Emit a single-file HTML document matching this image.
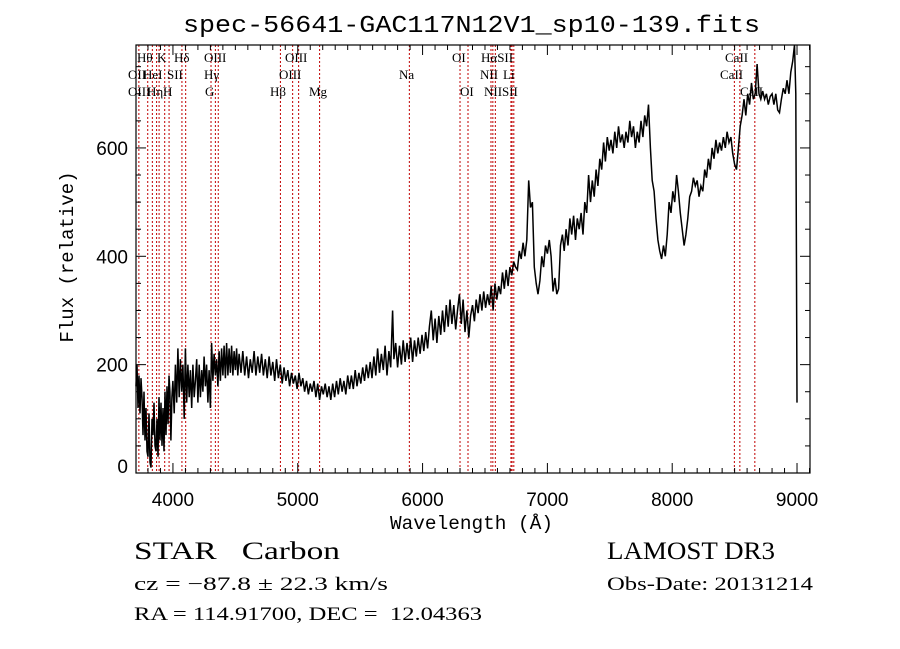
<!DOCTYPE html>
<html><head><meta charset="utf-8"><style>
html,body{margin:0;padding:0;background:#fff;}
svg{display:block;}
</style></head><body>
<svg id="chart" width="900" height="649" viewBox="0 0 900 649" xmlns="http://www.w3.org/2000/svg">
<rect x="0" y="0" width="900" height="649" fill="#fff"/>
<text x="183" y="32" textLength="577" lengthAdjust="spacingAndGlyphs" font-family="Liberation Mono, monospace" font-size="24">spec-56641-GAC117N12V1_sp10-139.fits</text>
<g id="lines"></g>
<g id="labels" font-family="Liberation Serif, serif" font-size="13">
<text x="137" y="62">Hθ</text><text x="157" y="62">K</text><text x="174" y="62">Hδ</text><text x="204" y="62">OIII</text><text x="285" y="62">OIII</text><text x="452" y="62">OI</text><text x="481" y="62">HαSII</text>
<text x="128" y="79">OII</text><text x="143" y="79">HeI</text><text x="167" y="79">SII</text><text x="204" y="79">Hγ</text><text x="279" y="79">OIII</text><text x="399" y="79">Na</text><text x="480" y="79">NII</text><text x="503" y="79">Li</text>
<text x="128" y="96">OIII</text><text x="147" y="96">Hη</text><text x="163" y="96">H</text><text x="205" y="96">G</text><text x="270" y="96">Hβ</text><text x="309" y="96">Mg</text><text x="460" y="96">OI</text><text x="484" y="96">NII</text><text x="502" y="96">SII</text>
<text x="725" y="62">CaII</text><text x="720" y="79">CaII</text><text x="740" y="96">CaII</text>
</g>
<g id="ticks" stroke="#000" stroke-width="1"></g>
<g id="ticklabels" font-family="Liberation Sans, sans-serif" font-size="19"></g>
<path id="spec" fill="none" stroke="#000" stroke-width="1.5"/>
<rect x="136" y="45" width="674" height="428" fill="none" stroke="#000" stroke-width="1.2"/>
<text x="390" y="529" textLength="163" lengthAdjust="spacingAndGlyphs" font-family="Liberation Mono, monospace" font-size="19">Wavelength (Å)</text>
<text transform="translate(73,257) rotate(-90)" text-anchor="middle" font-family="Liberation Mono, monospace" font-size="19">Flux (relative)</text>
<text x="134" y="559" textLength="206" lengthAdjust="spacingAndGlyphs" font-family="Liberation Serif, serif" font-size="25" xml:space="preserve">STAR   Carbon</text>
<text x="134" y="590" textLength="254" lengthAdjust="spacingAndGlyphs" font-family="Liberation Serif, serif" font-size="19">cz = −87.8 ± 22.3 km/s</text>
<text x="134" y="620" textLength="348" lengthAdjust="spacingAndGlyphs" font-family="Liberation Serif, serif" font-size="19" xml:space="preserve">RA = 114.91700, DEC =  12.04363</text>
<text x="607" y="559" textLength="168" lengthAdjust="spacingAndGlyphs" font-family="Liberation Serif, serif" font-size="25">LAMOST DR3</text>
<text x="607" y="590" textLength="206" lengthAdjust="spacingAndGlyphs" font-family="Liberation Serif, serif" font-size="19">Obs-Date: 20131214</text>
</svg>
<script>
const wave = [
3704,3712,3720,3728,3736,3744,3752,3760,3768,3776,
3784,3792,3800,3808,3816,3824,3832,3840,3848,3856,
3864,3872,3880,3888,3896,3904,3912,3920,3928,3936,
3944,3952,3960,3968,3976,3984,3992,4000,4010,4020,
4030,4040,4050,4060,4070,4080,4090,4100,4110,4120,
4130,4140,4150,4160,4170,4180,4190,4200,4210,4220,
4230,4240,4250,4260,4270,4280,4290,4300,4310,4320,
4330,4340,4350,4360,4370,4380,4390,4400,4410,4420,
4430,4440,4450,4460,4470,4480,4490,4500,4510,4520,
4530,4545,4560,4575,4590,4605,4620,4635,4650,4665,
4680,4695,4710,4725,4740,4755,4770,4785,4800,4815,
4830,4845,4860,4875,4890,4905,4920,4935,4950,4965,
4980,4995,5010,5025,5040,5055,5070,5085,5100,5115,
5130,5145,5160,5175,5190,5205,5220,5235,5250,5265,
5280,5295,5310,5325,5340,5355,5370,5385,5400,5415,
5430,5445,5460,5475,5490,5505,5520,5535,5550,5565,
5580,5595,5610,5625,5640,5655,5670,5685,5700,5715,
5730,5745,5760,5770,5785,5800,5815,5830,5845,5860,
5875,5890,5905,5920,5935,5950,5965,5980,5995,6010,
6025,6040,6055,6070,6085,6100,6115,6130,6145,6160,
6175,6190,6205,6220,6235,6250,6265,6280,6295,6310,
6325,6340,6355,6370,6385,6400,6415,6430,6445,6460,
6475,6490,6505,6520,6535,6550,6565,6580,6595,6610,
6625,6640,6655,6670,6685,6700,6715,6730,6745,6760,
6775,6790,6805,6820,6835,6850,6865,6880,6895,6910,
6925,6940,6955,6970,6985,7000,7015,7030,7045,7060,
7075,7090,7105,7120,7135,7150,7165,7180,7195,7210,
7225,7240,7255,7270,7285,7300,7315,7330,7345,7360,
7375,7390,7405,7420,7435,7450,7465,7480,7495,7510,
7525,7540,7555,7570,7585,7600,7615,7630,7645,7660,
7675,7690,7705,7720,7735,7750,7765,7780,7795,7810,
7825,7840,7855,7870,7885,7900,7915,7930,7945,7960,
7975,7990,8005,8020,8035,8050,8065,8080,8095,8110,
8125,8140,8155,8170,8185,8200,8215,8230,8245,8260,
8275,8290,8305,8320,8335,8350,8365,8380,8395,8410,
8425,8440,8455,8470,8485,8500,8515,8530,8545,8560,
8575,8590,8605,8620,8635,8650,8665,8680,8695,8710,
8725,8740,8755,8770,8785,8800,8815,8830,8845,8860,
8875,8890,8905,8920,8935,8950,8965,8980,8990,9000];
const flux = [
160,200,120,180,110,175,140,70,150,60,
120,40,30,110,20,10,100,70,130,50,
40,100,30,140,60,130,50,120,40,150,
70,160,90,180,150,60,140,170,110,200,
130,230,140,210,150,200,100,230,130,200,
140,190,120,200,140,170,210,130,200,140,
190,150,215,160,200,130,190,120,240,170,
220,180,210,160,225,170,230,180,235,175,
240,180,230,185,235,180,225,190,230,180,
220,185,225,180,215,175,210,185,225,180,
215,185,220,180,210,175,215,180,205,170,
210,175,200,165,195,170,190,160,185,165,
180,155,185,160,175,150,170,145,165,150,
170,140,165,135,160,145,165,140,160,135,
165,140,170,145,175,150,170,145,180,155,
180,155,190,160,185,165,195,170,200,175,
205,175,215,180,230,185,220,190,235,180,
225,195,300,210,240,195,235,200,245,205,
240,210,250,205,245,215,250,220,255,225,
260,230,270,300,245,285,240,290,255,300,
260,310,270,320,275,310,265,300,330,275,
320,260,300,250,290,310,280,320,295,330,
300,335,305,330,310,345,300,350,320,345,
330,370,340,375,345,380,365,390,380,375,
410,395,425,400,430,540,490,500,380,350,
330,355,400,380,420,405,430,400,335,360,
330,340,420,440,410,450,420,470,440,475,
430,470,450,480,440,500,480,550,500,540,
510,560,530,580,560,610,575,620,595,615,
590,630,600,640,610,625,600,630,610,650,
620,640,600,630,610,650,620,660,640,680,
600,540,520,470,430,410,395,420,400,440,
500,480,520,500,550,520,480,450,420,440,
470,510,520,545,530,540,510,530,520,560,
545,580,560,600,580,615,590,610,595,620,
600,630,610,620,590,570,560,600,640,660,
690,660,700,680,720,690,700,755,700,690,
705,690,700,680,695,700,680,700,670,665,
690,710,700,725,700,740,760,795,700,130];
const xTicks = [4000,5000,6000,7000,8000,9000];
const yTicks = [0,200,400,600];
const lineWaves = [3727,3798,3835,3869,3889,3934,3969,4072,4102,4305,4340,4363,4861,4959,5007,5175,5894,6300,6364,6548,6563,6583,6708,6717,6731,8498,8542,8662];

const X0=136,X1=810,Y0=473,Y1=45;
const xmin=3704, xmax=9104, ymin=0, ymax=790;
function xs(w){return X0+(w-xmin)/(xmax-xmin)*(X1-X0);}
function ys(f){return Y0-(f-ymin)/(ymax-ymin)*(Y0-Y1);}
const NS='http://www.w3.org/2000/svg';

let d='';
const n=Math.min(wave.length,flux.length);
for(let i=0;i<n;i++){d+=(i?'L':'M')+xs(wave[i]).toFixed(1)+' '+Math.max(Y1,Math.min(Y0,ys(flux[i]))).toFixed(1);}
document.getElementById('spec').setAttribute('d',d);

const lg=document.getElementById('lines');
lineWaves.forEach(w=>{
  const l=document.createElementNS(NS,'line');
  l.setAttribute('x1',xs(w));l.setAttribute('x2',xs(w));l.setAttribute('y1',Y1);l.setAttribute('y2',Y0);
  l.setAttribute('stroke','#c00000');l.setAttribute('stroke-width','1');l.setAttribute('stroke-dasharray','2,2');
  
  
  lg.appendChild(l);
});

const tg=document.getElementById('ticks');
function tick(x1,y1,x2,y2){const t=document.createElementNS(NS,'line');t.setAttribute('x1',x1);t.setAttribute('y1',y1);t.setAttribute('x2',x2);t.setAttribute('y2',y2);
  
  
  tg.appendChild(t);}
for(let w=3800;w<=9100;w+=100){
  const x=xs(w), major=(w%1000===0), len=major?10:5;
  tick(x,Y0,x,Y0-len);tick(x,Y1,x,Y1+len);
}
for(let f=0;f<=750;f+=50){
  const y=ys(f), major=(f%200===0), len=major?10:5;
  tick(X0,y,X0+len,y);tick(X1,y,X1-len,y);
}
const lab=document.getElementById('ticklabels');
xTicks.forEach(w=>{const t=document.createElementNS(NS,'text');t.setAttribute('x',xs(w));t.setAttribute('y',506);t.setAttribute('text-anchor','middle');t.textContent=w;
  
  
  lab.appendChild(t);});
yTicks.forEach(f=>{const t=document.createElementNS(NS,'text');t.setAttribute('x',128);t.setAttribute('y',Math.min(ys(f)+7,473));t.setAttribute('text-anchor','end');t.textContent=f;
  
  
  lab.appendChild(t);});
</script>
</body></html>
